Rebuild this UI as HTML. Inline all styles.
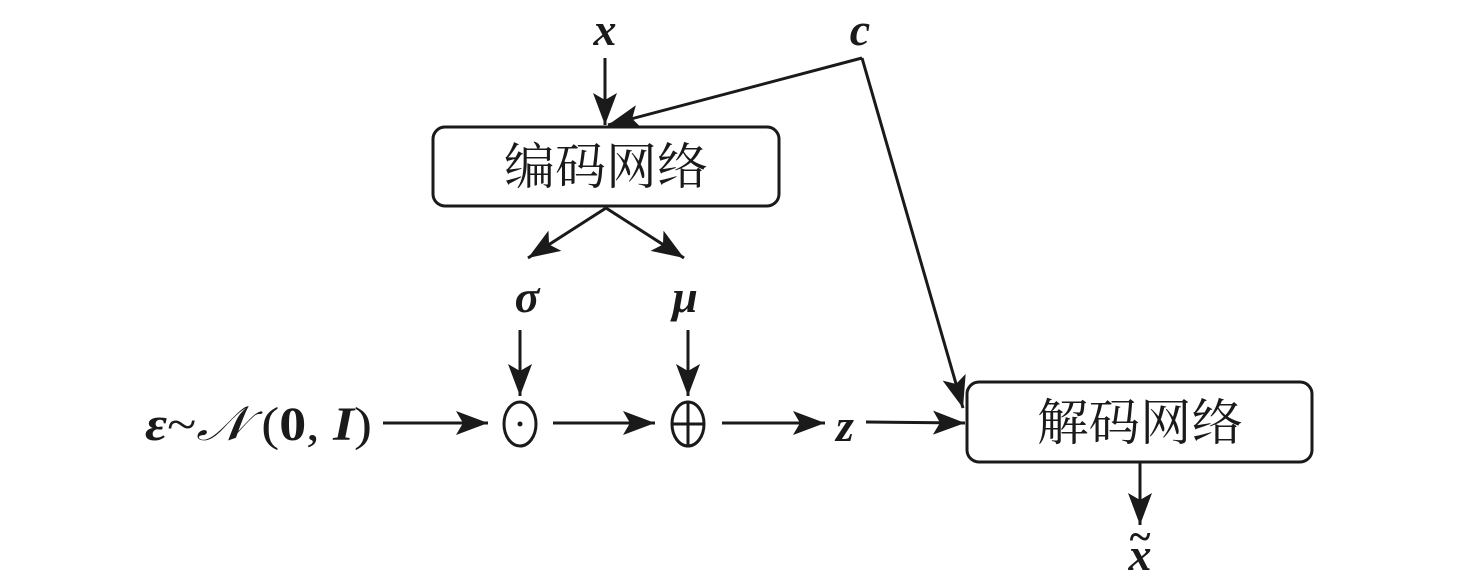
<!DOCTYPE html>
<html><head><meta charset="utf-8"><style>
html,body{margin:0;padding:0;background:#fff;width:1476px;height:585px;overflow:hidden}
svg text{fill:#1a1a1a}
.m{font-family:"Liberation Serif",serif;font-style:italic;font-weight:bold;font-size:46px}
.c{font-family:"Liberation Serif","Noto Serif CJK SC",serif;font-size:50px}
</style></head><body>
<svg width="1476" height="585" viewBox="0 0 1476 585">
<defs>
<marker id="a" markerWidth="34" markerHeight="24" refX="32" refY="12" orient="auto" markerUnits="userSpaceOnUse">
<path d="M0,0 L32,12 L0,24 L7,12 Z" fill="#1a1a1a"/>
</marker>
</defs>
<g stroke="#1a1a1a" stroke-width="3" fill="none">
<rect x="433" y="127" width="346" height="79" rx="12"/>
<rect x="967" y="382" width="345" height="80" rx="12"/>
<line x1="605" y1="58" x2="605" y2="125" marker-end="url(#a)"/>
<polyline points="862,58 963,408" marker-end="url(#a)"/>
<line x1="862" y1="58" x2="608" y2="125" marker-end="url(#a)"/>
<line x1="606" y1="208" x2="528" y2="258" marker-end="url(#a)"/>
<line x1="606" y1="208" x2="684" y2="258" marker-end="url(#a)"/>
<line x1="520" y1="330" x2="520" y2="396" marker-end="url(#a)"/>
<line x1="688" y1="330" x2="688" y2="396" marker-end="url(#a)"/>
<line x1="383" y1="423" x2="488" y2="423" marker-end="url(#a)"/>
<line x1="553" y1="423" x2="655" y2="423" marker-end="url(#a)"/>
<line x1="722" y1="423" x2="825" y2="423" marker-end="url(#a)"/>
<line x1="866" y1="422" x2="965" y2="423" marker-end="url(#a)"/>
<line x1="1140" y1="462" x2="1140" y2="525" marker-end="url(#a)"/>
<ellipse cx="520" cy="424" rx="16" ry="22"/>
<ellipse cx="688" cy="424" rx="16" ry="22"/>
<line x1="688" y1="402" x2="688" y2="446"/>
<line x1="672" y1="424" x2="704" y2="424"/>
</g>
<circle cx="520" cy="424" r="2.5" fill="#1a1a1a"/>
<text class="m" x="605" y="45" text-anchor="middle">x</text>
<text class="m" x="860" y="45" text-anchor="middle">c</text>
<text class="c" x="606" y="184" text-anchor="middle" textLength="204" lengthAdjust="spacingAndGlyphs">编码网络</text>
<text class="c" x="1140" y="440" text-anchor="middle" textLength="206" lengthAdjust="spacingAndGlyphs">解码网络</text>
<text class="m" x="527" y="312" text-anchor="middle">σ</text>
<text class="m" x="685" y="312" text-anchor="middle">μ</text>
<text class="m" x="845" y="441" text-anchor="middle">z</text>
<text x="145" y="440" textLength="227" lengthAdjust="spacingAndGlyphs" style="font-family:'Liberation Serif',serif;font-size:48px"><tspan font-style="italic" font-weight="bold">ε</tspan>~<tspan font-style="italic">𝒩</tspan> (<tspan font-weight="bold">0</tspan>, <tspan font-weight="bold" font-style="italic">I</tspan>)</text>
<text class="m" x="1140" y="570" text-anchor="middle">x</text>
<text x="1140" y="550" text-anchor="middle" style="font-family:'Liberation Serif',serif;font-size:40px;font-weight:bold">~</text>
</svg>
</body></html>
